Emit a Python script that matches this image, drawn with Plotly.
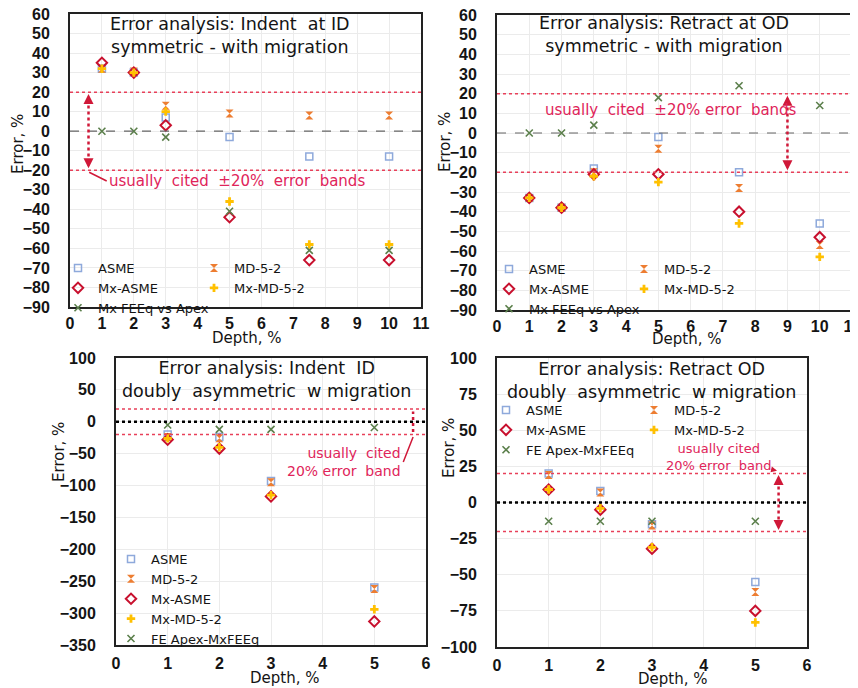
import plotly.graph_objects as go

# page body has an 8px margin: figure is 850x680 and all pixel positions below are window pixels
OFF = 8
W, H = 850, 680

# ---------------- data ----------------
depth_sym = [1, 2, 3, 5, 7.5, 10]
depth_asym = [1, 2, 3, 5]

# Panel 1: Indent at ID, symmetric - with migration
p1_asme = [32, 30, 7, -3, -13, -13]
p1_md = [32, 30.5, 13, 9, 8, 8]
p1_mxasme = [35, 30, 3, -44, -66, -66]
p1_mxmd = [32, 30, 10, -36, -58, -58]
p1_fe = [0, 0, -3, -41, -61, -61]

# Panel 2: Retract at OD, symmetric - with migration
p2_asme = [-33, -38, -18, -2, -20, -46]
p2_md = [-33, -38, -20, -8, -28, -57]
p2_mxasme = [-33, -38, -21, -21, -40, -53]
p2_mxmd = [-33, -38, -22, -25, -46, -63]
p2_fe = [0, 0, 4, 18, 24, 14]

# Panel 3: Indent ID, doubly asymmetric w migration
p3_asme = [-20, -24, -93, -260]
p3_md = [-24, -26, -95, -262]
p3_mxasme = [-28, -42, -117, -313]
p3_mxmd = [-26, -40, -115, -294]
p3_fe = [-5, -12, -12, -9]

# Panel 4: Retract OD, doubly asymmetric w migration
p4_asme = [20, 8, -15, -55]
p4_md = [19, 7, -16, -62]
p4_mxasme = [9, -5, -32, -75]
p4_mxmd = [9, -4, -31, -83]
p4_fe = [-13, -13, -13, -13]

band = 20

# ---------------- styles ----------------
FONT = "DejaVu Sans"
TICKFONT = "Liberation Sans"
INK = "#141414"
RED_TXT = "#E0245A"
styles = {
    "ASME": dict(symbol="square-open", size=7, color="#8EA9DB", line=dict(width=1.5, color="#8EA9DB")),
    "MD-5-2": dict(symbol="hourglass", size=8, color="#ED7D31", line=dict(width=0)),
    "Mx-ASME": dict(symbol="diamond-open", size=8, color="#C8102E", line=dict(width=2, color="#C8102E")),
    "Mx-MD-5-2": dict(symbol="cross", size=7, color="#FFC000", line=dict(width=0)),
    "FE": dict(symbol="x-thin-open", size=7, color="#5B7F4B", line=dict(width=1.6, color="#5B7F4B")),
}

def px_x(px):
    return (px - OFF) / W

def px_y(py):
    return 1 - (py - OFF) / H

fig = go.Figure()

def add_series(x, y, name, key, xa, ya, legend):
    fig.add_trace(go.Scatter(x=x, y=y, mode="markers", name=name, marker=styles[key],
                             xaxis=xa, yaxis=ya, legend=legend))

# panel 1
add_series(depth_sym, p1_asme, "ASME", "ASME", "x", "y", "legend")
add_series(depth_sym, p1_md, "MD-5-2", "MD-5-2", "x", "y", "legend2")
add_series(depth_sym, p1_mxasme, "Mx-ASME", "Mx-ASME", "x", "y", "legend")
add_series(depth_sym, p1_mxmd, "Mx-MD-5-2", "Mx-MD-5-2", "x", "y", "legend2")
add_series(depth_sym, p1_fe, "Mx FEEq vs Apex", "FE", "x", "y", "legend")
# panel 2
add_series(depth_sym, p2_asme, "ASME", "ASME", "x2", "y2", "legend3")
add_series(depth_sym, p2_md, "MD-5-2", "MD-5-2", "x2", "y2", "legend4")
add_series(depth_sym, p2_mxasme, "Mx-ASME", "Mx-ASME", "x2", "y2", "legend3")
add_series(depth_sym, p2_mxmd, "Mx-MD-5-2", "Mx-MD-5-2", "x2", "y2", "legend4")
add_series(depth_sym, p2_fe, "Mx FEEq vs Apex", "FE", "x2", "y2", "legend3")
# panel 3
add_series(depth_asym, p3_asme, "ASME", "ASME", "x3", "y3", "legend5")
add_series(depth_asym, p3_md, "MD-5-2", "MD-5-2", "x3", "y3", "legend5")
add_series(depth_asym, p3_mxasme, "Mx-ASME", "Mx-ASME", "x3", "y3", "legend5")
add_series(depth_asym, p3_mxmd, "Mx-MD-5-2", "Mx-MD-5-2", "x3", "y3", "legend5")
add_series(depth_asym, p3_fe, "FE Apex-MxFEEq", "FE", "x3", "y3", "legend5")
# panel 4
add_series(depth_asym, p4_asme, "ASME", "ASME", "x4", "y4", "legend6")
add_series(depth_asym, p4_md, "MD-5-2", "MD-5-2", "x4", "y4", "legend7")
add_series(depth_asym, p4_mxasme, "Mx-ASME", "Mx-ASME", "x4", "y4", "legend6")
add_series(depth_asym, p4_mxmd, "Mx-MD-5-2", "Mx-MD-5-2", "x4", "y4", "legend7")
add_series(depth_asym, p4_fe, "FE Apex-MxFEEq", "FE", "x4", "y4", "legend6")

tickfont = dict(family=TICKFONT, size=16, color=INK, weight="bold")

def xaxis(dom, rng, anchor, standoff):
    return dict(domain=[px_x(dom[0]), px_x(dom[1])], range=rng, dtick=1, tick0=0,
                anchor=anchor, showline=True, mirror=True, linecolor="#222", linewidth=2,
                showgrid=True, gridcolor="#ebebeb", gridwidth=1, zeroline=False,
                tickfont=tickfont, ticklabelstandoff=standoff, automargin=False,
                ticklabeloverflow="allow")

def yaxis(dom, rng, dt, anchor):
    return dict(domain=[px_y(dom[1]), px_y(dom[0])], range=rng, dtick=dt, tick0=0,
                anchor=anchor, showline=True, mirror=True, linecolor="#222", linewidth=2,
                showgrid=True, gridcolor="#ebebeb", gridwidth=1, zeroline=False,
                tickfont=tickfont, ticklabelstandoff=15, automargin=False,
                ticklabeloverflow="allow")

layout = dict(
    width=W, height=H, margin=dict(l=0, r=0, t=0, b=0, autoexpand=False),
    paper_bgcolor="white", plot_bgcolor="white",
    font=dict(family=FONT, color=INK),
    xaxis=xaxis((70, 421), [0, 11], "y", 1),
    yaxis=yaxis((14, 307), [-90, 60], 10, "x"),
    xaxis2=xaxis((497, 852), [0, 11], "y2", 1),
    yaxis2=yaxis((15, 310), [-90, 60], 10, "x2"),
    xaxis3=xaxis((116, 426), [0, 6], "y3", 3),
    yaxis3=yaxis((358, 645), [-350, 100], 50, "x3"),
    xaxis4=xaxis((497, 807), [0, 6], "y4", 3),
    yaxis4=yaxis((358, 647), [-100, 100], 25, "x4"),
)

def leg(left, top):
    return dict(x=px_x(left), y=px_y(top), xanchor="left", yanchor="top",
                bgcolor="rgba(0,0,0,0)", borderwidth=0, tracegroupgap=0,
                font=dict(family=FONT, size=13, color=INK), itemwidth=30)

layout["legend"] = leg(58, 253)
layout["legend2"] = leg(194, 253)
layout["legend3"] = leg(489, 254)
layout["legend4"] = leg(624, 254)
layout["legend5"] = leg(111, 544)
layout["legend6"] = leg(486, 395)
layout["legend7"] = leg(634, 395)
fig.update_layout(**layout)

# ---------------- reference lines ----------------
for i, (zdash, zcol, zw) in enumerate([("dash", "#666", 1.2), ("dash", "#666", 1.2),
                                        ("dot", "#000", 2.5), ("dot", "#000", 2.5)]):
    sfx = "" if i == 0 else str(i + 1)
    for yv in (band, -band):
        fig.add_shape(type="line", xref=f"x{sfx} domain", yref=f"y{sfx}", x0=0, x1=1, y0=yv, y1=yv,
                      line=dict(color="#E8405A", width=1.5, dash="dot"))
    fig.add_shape(type="line", xref=f"x{sfx} domain", yref=f"y{sfx}", x0=0, x1=1, y0=0, y1=0,
                  line=dict(color=zcol, width=zw, dash=zdash))

# vertical double arrows
arrow_pos = [("", 0.58), ("2", 9.0), ("3", 5.75), ("4", 5.45)]
for sfx, xv in arrow_pos:
    fig.add_shape(type="line", xref=f"x{sfx}", yref=f"y{sfx}", x0=xv, x1=xv, y0=-16, y1=16,
                  line=dict(color="#D01838", width=2.5, dash="dot"))
    for head, tail in ((19, 14), (-19, -14)):
        fig.add_annotation(xref=f"x{sfx}", yref=f"y{sfx}", axref=f"x{sfx}", ayref=f"y{sfx}",
                           x=xv, y=head, ax=xv, ay=tail, text="", showarrow=True,
                           arrowhead=2, arrowsize=1, arrowwidth=2, arrowcolor="#D01838")

# ---------------- texts ----------------
def text_at(text, cx, cy, size, angle=0):
    fig.add_annotation(xref="paper", yref="paper", x=px_x(cx), y=px_y(cy), text=text,
                       showarrow=False, xanchor="center", yanchor="middle", align="center",
                       textangle=angle, font=dict(family=FONT, size=size, color=INK))

# panel titles
text_at("Error analysis: Indent  at ID<br>symmetric - with migration", 230, 36, 17.5)
text_at("Error analysis: Retract at OD<br>symmetric - with migration", 664, 34.5, 17.5)
text_at("Error analysis: Indent  ID<br>doubly  asymmetric  w migration", 266, 379.5, 17.5)
text_at("Error analysis: Retract OD<br>doubly  asymmetric  w migration", 651, 380, 17.5)

# axis titles
for cx, cy in [(18, 144), (445, 142), (59, 452), (449, 448)]:
    text_at("Error, %", cx, cy, 15, angle=-90)
for cx, cy in [(246, 338), (686, 339), (284, 678), (672, 679)]:
    text_at("Depth, %", cx, cy, 15)

redfont = dict(family=FONT, size=15, color=RED_TXT)
fig.add_annotation(xref="x", yref="y", axref="x", ayref="y", x=0.6, y=-21, ax=1.15, ay=-25.5,
                   text="usually  cited  ±20%  error  bands", xanchor="left", showarrow=True,
                   arrowhead=0, arrowwidth=1.5, arrowcolor="#D01838", font=redfont)
fig.add_annotation(xref="x2", yref="y2", x=5.4, y=11.5, text="usually  cited  ±20% error  bands",
                   showarrow=False, font=redfont)
fig.add_annotation(xref="x3", yref="y3", axref="x3", ayref="y3", x=5.75, y=-24, ax=5.56, ay=-63,
                   text="usually  cited<br>20% error  band", xanchor="right", align="right",
                   showarrow=True, arrowhead=0, arrowwidth=1.5, arrowcolor="#D01838",
                   font=dict(family=FONT, size=14, color=RED_TXT))
smallred = dict(family=FONT, size=13, color=RED_TXT)
fig.add_annotation(xref="x4", yref="y4", axref="x4", ayref="y4", x=5.42, y=22, ax=4.28, ay=31.5,
                   text="usually cited<br>20% error  band", showarrow=True, arrowhead=2,
                   arrowsize=0.8, arrowwidth=1.5, arrowcolor="#D01838", font=smallred)

fig.write_html("out.html")
